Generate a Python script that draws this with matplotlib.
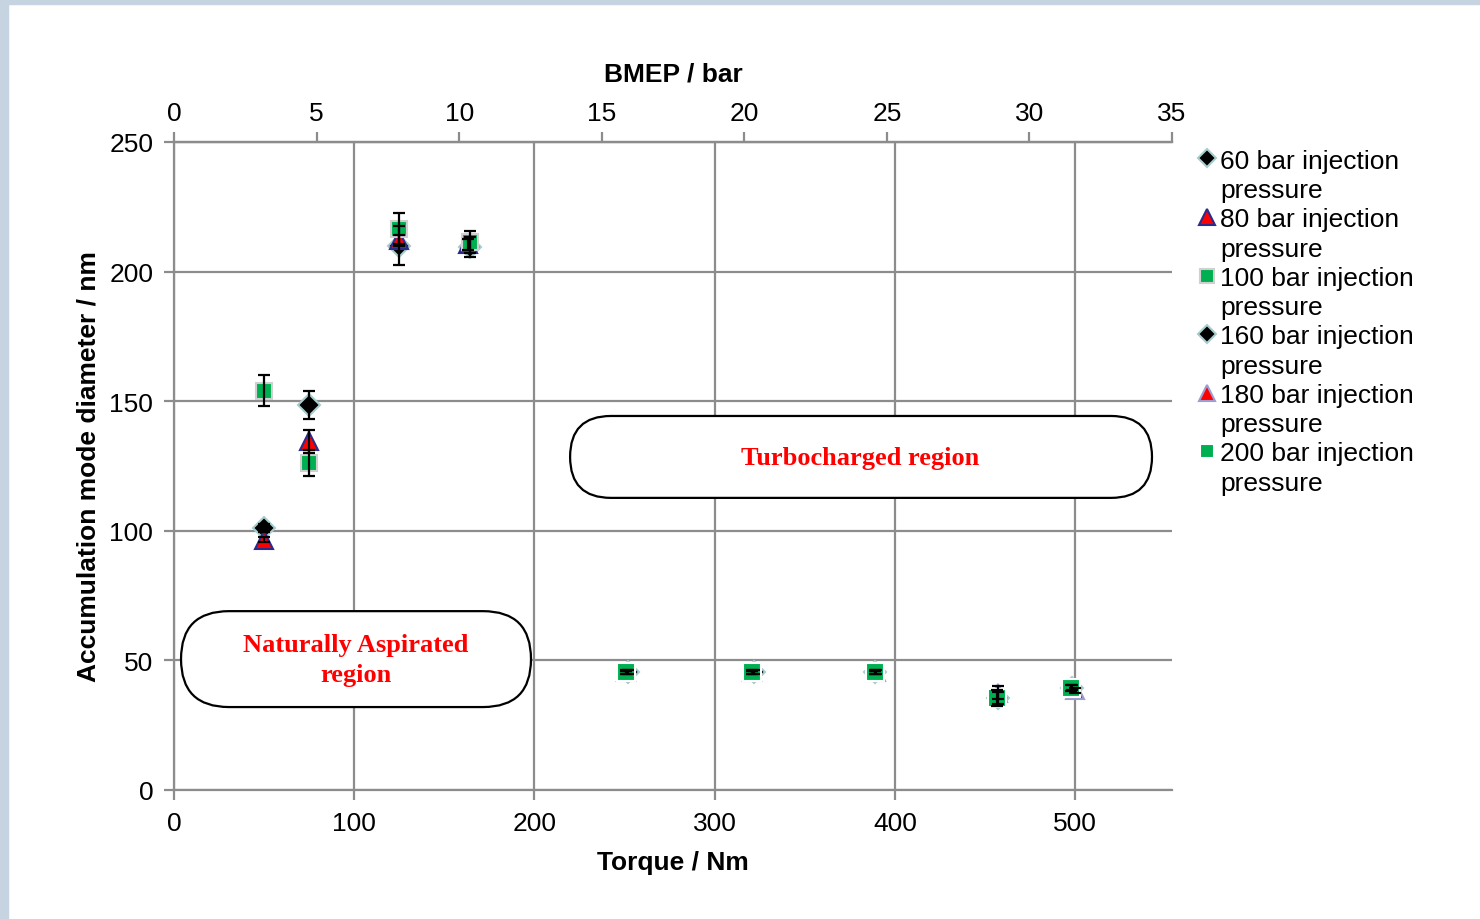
import matplotlib.pyplot as plt
from matplotlib.lines import Line2D
from matplotlib.patches import FancyBboxPatch, Rectangle

plt.rcParams['font.family'] = ['Liberation Sans', 'DejaVu Sans']

# naturally aspirated points (60/80/100 bar)
torque_60 = [50, 75, 125, 164]
diam_60 = [101, 148.5, 210, 209.5]
err_60 = [1.5, 5.3, 7.5, 4]

torque_80 = [50, 75, 125, 163]
diam_80 = [96.5, 134.5, 212, 210.5]
err_80 = [1, 4.5, 2, 2]

torque_100 = [50, 75, 125, 164]
diam_100 = [154, 126, 216.5, 211.5]
err_100 = [6, 5, 6, 4.2]

# turbocharged points (160/180/200 bar)
torque_160 = [252, 322, 389, 457.5, 498.5]
diam_160 = [45.5, 45.5, 45.5, 35.5, 39.5]
err_160 = [0.8, 0.8, 0.8, 2.5, 1]

torque_180 = [251, 321, 389.5, 457, 500]
diam_180 = [45.5, 45.5, 45.5, 37.5, 38.5]
err_180 = [0.8, 0.8, 0.8, 2.5, 1]

torque_200 = [251, 321, 389, 456.5, 498]
diam_200 = [45.5, 45.5, 45.5, 35.5, 39.5]
err_200 = [0.6, 0.6, 0.6, 3, 1.2]

pressures = ['60', '80', '100', '160', '180', '200']

grey = '#8c8c8c'
green = '#00b050'

fig = plt.figure(figsize=(14.8, 9.2), dpi=100)
fig.patches.append(Rectangle((0, 0), 8 / 1480, 1, transform=fig.transFigure,
                             color='#c6d4e1', zorder=0))
fig.patches.append(Rectangle((0, 1 - 5 / 920), 1, 5 / 920, transform=fig.transFigure,
                             color='#c6d4e1', zorder=0))

ax = fig.add_axes([174 / 1480, 129 / 920, 998 / 1480, 648 / 920])

series = [
    (torque_60, diam_60, err_60, 'D', 'black', '#a8cccc', 11),
    (torque_80, diam_80, err_80, '^', 'red', '#2b2b8c', 13),
    (torque_100, diam_100, err_100, 's', green, '#d0d0d0', 12),
    (torque_160, diam_160, err_160, 'D', 'black', '#a8cccc', 11),
    (torque_180, diam_180, err_180, '^', 'red', '#9d9dcf', 13),
    (torque_200, diam_200, err_200, 's', green, 'white', 12.5),
]

# legend: marker on the first line, "pressure" wrapped on the second
handles = []
labels = []
for i, (x, y, e, m, fc, ec, ms) in enumerate(series):
    ax.plot(x, y, ls='none', marker=m, ms=ms, mfc=fc, mec=ec, mew=1.5, zorder=3 + i * 0.1)
    ax.errorbar(x, y, yerr=e, fmt='none', ecolor='black', elinewidth=1.6,
                capsize=4, capthick=1.6, zorder=4)
    handles.append(Line2D([], [], ls='none', marker=m, ms=ms * 0.85, mfc=fc, mec=ec, mew=1.5))
    labels.append(pressures[i] + ' bar injection')
    handles.append(Line2D([], [], ls='none', marker='none'))
    labels.append('pressure')

ax.set_xlim(0, 553.8)
ax.set_ylim(0, 250)
ax.set_xticks([0, 100, 200, 300, 400, 500])
ax.set_yticks([0, 50, 100, 150, 200, 250])
ax.grid(True, color=grey, lw=1.6, zorder=0)
ax.set_axisbelow(True)
for s in ['left', 'bottom', 'top']:
    ax.spines[s].set_color(grey)
    ax.spines[s].set_linewidth(1.6)
ax.spines['right'].set_visible(False)
ax.tick_params(axis='both', colors=grey, length=7, width=1.6, labelsize=19,
               labelcolor='black', pad=8)
ax.set_xlabel('Torque / Nm', fontsize=19, fontweight='bold', labelpad=11)
ax.set_ylabel('Accumulation mode diameter / nm', fontsize=19, fontweight='bold', labelpad=6)

# BMEP scale on top
ax2 = ax.twiny()
ax2.set_xlim(0, 35)
ax2.set_xticks([0, 5, 10, 15, 20, 25, 30, 35])
for s in ['left', 'bottom', 'right']:
    ax2.spines[s].set_visible(False)
ax2.spines['top'].set_color(grey)
ax2.spines['top'].set_linewidth(1.6)
ax2.tick_params(axis='x', colors=grey, length=7, width=1.6, labelsize=19,
                labelcolor='black', pad=5)
ax2.set_xlabel('BMEP / bar', fontsize=19, fontweight='bold', labelpad=15)

# region boxes
asp = (998 / 553.8) / (648 / 250)
na_box = FancyBboxPatch((3.9, 32), 194.2, 37,
                        boxstyle='round,pad=0,rounding_size=26.6',
                        mutation_aspect=asp, fc='white', ec='black', lw=1.6, zorder=2)
ax.add_patch(na_box)
ax.text(101, 50.2, 'Naturally Aspirated\nregion', ha='center', va='center',
        family=['Liberation Serif', 'DejaVu Serif'], fontweight='bold',
        fontsize=19, color='red', linespacing=1.4, zorder=2.5)

tc_box = FancyBboxPatch((219.8, 112.7), 322.9, 31.6,
                        boxstyle='round,pad=0,rounding_size=22.7',
                        mutation_aspect=asp, fc='white', ec='black', lw=1.6, zorder=2)
ax.add_patch(tc_box)
ax.text(381, 128.3, 'Turbocharged region', ha='center', va='center',
        family=['Liberation Serif', 'DejaVu Serif'], fontweight='bold',
        fontsize=19, color='red', zorder=2.5)

ax.legend(handles, labels, loc='upper left', bbox_to_anchor=(1.018, 1.006),
          frameon=False, fontsize=19, handlelength=0.5, handletextpad=0.25,
          labelspacing=0.2, borderaxespad=0)

fig.savefig('out.png', dpi=100)
